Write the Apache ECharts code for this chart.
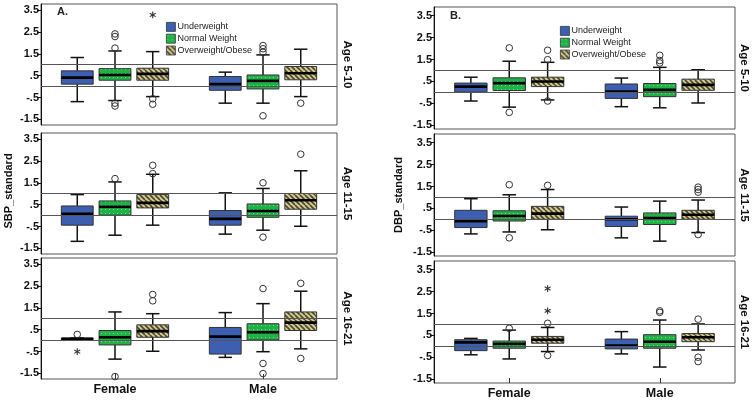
<!DOCTYPE html>
<html lang="en">
<head>
    <meta charset="UTF-8">
    <title>SBP / DBP standard by weight group</title>
    <script src="https://cdn.jsdelivr.net/npm/echarts@6/dist/echarts.min.js"></script>
    <style>
        html, body { margin: 0; padding: 0; background: #fff; }
        #chart { width: 754px; height: 400px; }
    </style>
</head>
<body>
<div id="chart"></div>
<script type="text/javascript">
    var categories = ['Female', 'Male'];
    var groups = ['Underweight', 'Normal Weight', 'Overweight/Obese'];
    var ageRows = ['Age 5-10', 'Age 11-15', 'Age 16-21'];
    var yTicks = [-1.5, -0.5, 0.5, 1.5, 2.5, 3.5];

    // box rows: Female UW, NW, OW, Male UW, NW, OW -> [low, q1, median, q3, high]
    var sbpAge5_10 = [
        [-0.69, 0.11, 0.41, 0.72, 1.33],
        [-0.64, 0.29, 0.53, 0.82, 1.63],
        [-0.46, 0.29, 0.58, 0.84, 1.60],
        [-0.76, -0.17, 0.11, 0.46, 0.66],
        [-0.76, -0.11, 0.26, 0.53, 1.45],
        [-0.46, 0.31, 0.61, 0.92, 1.71]
    ];
    var sbpAge11_15 = [
        [-1.18, -0.44, 0.08, 0.44, 0.96],
        [-0.90, 0.02, 0.40, 0.67, 1.54],
        [-0.44, 0.35, 0.58, 0.96, 1.89],
        [-0.85, -0.44, -0.15, 0.23, 1.04],
        [-0.67, -0.08, 0.21, 0.53, 1.24],
        [-0.49, 0.29, 0.70, 1.01, 2.05]
    ];
    var sbpAge16_21 = [
        [0.03, 0.05, 0.08, 0.11, 0.12],
        [-0.85, -0.20, 0.15, 0.46, 1.31],
        [-0.49, 0.15, 0.43, 0.72, 1.23],
        [-0.77, -0.62, 0.18, 0.60, 1.28],
        [-0.51, 0.03, 0.38, 0.77, 1.69],
        [-0.38, 0.46, 0.82, 1.31, 2.26]
    ];
    var dbpAge5_10 = [
        [-0.40, 0.02, 0.26, 0.42, 0.69],
        [-0.68, 0.08, 0.42, 0.66, 1.42],
        [-0.35, 0.26, 0.49, 0.69, 1.37],
        [-0.66, -0.28, 0.03, 0.38, 0.65],
        [-0.71, -0.20, 0.11, 0.40, 1.14],
        [-0.49, 0.09, 0.34, 0.60, 1.03]
    ];
    var dbpAge11_15 = [
        [-0.67, -0.38, -0.09, 0.41, 0.94],
        [-0.58, -0.08, 0.15, 0.39, 1.12],
        [-0.48, 0.00, 0.26, 0.59, 1.36],
        [-0.85, -0.33, 0.00, 0.14, 0.56],
        [-1.00, -0.24, 0.06, 0.29, 0.83],
        [-0.61, 0.00, 0.21, 0.41, 0.88]
    ];
    var dbpAge16_21 = [
        [-0.39, -0.20, 0.18, 0.30, 0.36],
        [-0.58, -0.09, 0.11, 0.24, 0.74],
        [-0.24, 0.14, 0.30, 0.45, 0.86],
        [-0.35, -0.12, 0.03, 0.33, 0.67],
        [-0.95, -0.09, 0.21, 0.53, 1.20],
        [-0.17, 0.21, 0.41, 0.58, 1.02]
    ];

    // outliers: [category, group, value, kind] kind 0 = circle, 1 = star
    var sbpOut5_10 = [
        [0, 1, 2.41, 0], [0, 1, 2.29, 0], [0, 1, 1.76, 0], [0, 1, -0.76, 0], [0, 1, -0.89, 0],
        [0, 2, 3.28, 1], [0, 2, -0.56, 0], [0, 2, -0.81, 0],
        [1, 1, 1.88, 0], [1, 1, 1.73, 0], [1, 1, 1.57, 0], [1, 1, -1.34, 0],
        [1, 2, -0.76, 0]
    ];
    var sbpOut11_15 = [
        [0, 1, 1.69, 0], [0, 2, 2.30, 0], [0, 2, 1.92, 0],
        [1, 1, 1.50, 0], [1, 1, -0.99, 0], [1, 2, 2.81, 0]
    ];
    var sbpOut16_21 = [
        [0, 0, 0.28, 0], [0, 0, -0.51, 1], [0, 1, -1.65, 0], [0, 2, 2.11, 0], [0, 2, 1.82, 0],
        [1, 1, 2.38, 0], [1, 1, -1.05, 0], [1, 1, -1.51, 0], [1, 2, 2.62, 0], [1, 2, -0.82, 0]
    ];
    var dbpOut5_10 = [
        [0, 1, 2.03, 0], [0, 1, -0.92, 0], [0, 2, 1.92, 0], [0, 2, 1.49, 0], [0, 2, -0.40, 0],
        [1, 1, 1.69, 0], [1, 1, 1.45, 0], [1, 1, 1.34, 0]
    ];
    var dbpOut11_15 = [
        [0, 1, 1.58, 0], [0, 1, -0.85, 0], [0, 2, 1.55, 0],
        [1, 2, 1.47, 0], [1, 2, 1.36, 0], [1, 2, 1.24, 0], [1, 2, -0.70, 0]
    ];
    var dbpOut16_21 = [
        [0, 1, 0.82, 0], [0, 2, 2.64, 1], [0, 2, 1.62, 1], [0, 2, 1.05, 0], [0, 2, -0.42, 0],
        [1, 1, 1.62, 0], [1, 1, 1.55, 0], [1, 2, 1.24, 0], [1, 2, -0.50, 0], [1, 2, -0.70, 0]
    ];

    var FONT = "'Liberation Sans', Arial, sans-serif";

    // fill patterns like the SPSS ones
    function dotPattern() {
        var c = document.createElement('canvas');
        c.width = 4; c.height = 4;
        var ctx = c.getContext('2d');
        ctx.fillStyle = '#1fb247';
        ctx.fillRect(0, 0, 4, 4);
        ctx.fillStyle = '#7ddc8e';
        ctx.fillRect(1, 1, 1, 1);
        return { image: c, repeat: 'repeat' };
    }
    function stripePattern() {
        var c = document.createElement('canvas');
        c.width = 5; c.height = 5;
        var ctx = c.getContext('2d');
        ctx.fillStyle = '#d4cb90';
        ctx.fillRect(0, 0, 5, 5);
        ctx.strokeStyle = '#4a4530';
        ctx.lineWidth = 1.6;
        ctx.beginPath();
        for (var k = -5; k <= 5; k += 5) {
            ctx.moveTo(k, 0);
            ctx.lineTo(k + 5, 5);
        }
        ctx.stroke();
        return { image: c, repeat: 'repeat' };
    }
    var fills = ['#3d5fb1', dotPattern(), stripePattern()];

    var panels = [
        { label: 'A.', yName: 'SBP_standard', left: 41, width: 296, tops: [4, 133, 258], height: 121,
          min: -1.76, max: 3.78, boxes: [sbpAge5_10, sbpAge11_15, sbpAge16_21],
          outs: [sbpOut5_10, sbpOut11_15, sbpOut16_21] },
        { label: 'B.', yName: 'DBP_standard', left: 434, width: 301, tops: [7, 134, 261], height: 122,
          min: -1.68, max: 3.9, boxes: [dbpAge5_10, dbpAge11_15, dbpAge16_21],
          outs: [dbpOut5_10, dbpOut11_15, dbpOut16_21] }
    ];

    function boxRenderer(g) {
        return function (params, api) {
            var cat = api.value(0);
            var band = api.size([1, 0])[0];
            var cx = api.coord([cat, 0])[0] + (g - 1) * band * 0.255;
            var w = band * 0.215;
            var cap = w * 0.42;
            var y = [1, 2, 3, 4, 5].map(function (i) { return api.coord([cat, api.value(i)])[1]; });
            var wl = { stroke: '#111', lineWidth: 1.5 };
            return {
                type: 'group',
                children: [
                    { type: 'line', shape: { x1: cx, y1: y[4], x2: cx, y2: y[3] }, style: wl },
                    { type: 'line', shape: { x1: cx, y1: y[1], x2: cx, y2: y[0] }, style: wl },
                    { type: 'line', shape: { x1: cx - cap / 2, y1: y[4], x2: cx + cap / 2, y2: y[4] }, style: wl },
                    { type: 'line', shape: { x1: cx - cap / 2, y1: y[0], x2: cx + cap / 2, y2: y[0] }, style: wl },
                    { type: 'rect', shape: { x: cx - w / 2, y: y[3], width: w, height: Math.max(y[1] - y[3], 1) },
                      style: { fill: fills[g], stroke: '#333', lineWidth: 1 } },
                    { type: 'line', shape: { x1: cx - w / 2, y1: y[2], x2: cx + w / 2, y2: y[2] },
                      style: { stroke: '#000', lineWidth: 2.6 } }
                ]
            };
        };
    }

    function outlierRenderer(params, api) {
        var cat = api.value(0), g = api.value(1), kind = api.value(3);
        var band = api.size([1, 0])[0];
        var p = api.coord([cat, api.value(2)]);
        var x = p[0] + (g - 1) * band * 0.255;
        if (kind === 0) {
            return { type: 'circle', shape: { cx: x, cy: p[1], r: 3.3 },
                     style: { fill: 'none', stroke: '#333', lineWidth: 1 } };
        }
        // asterisk
        var r = 3.4, arms = [];
        [90, 30, -30].forEach(function (deg) {
            var a = deg * Math.PI / 180;
            arms.push({ type: 'line',
                shape: { x1: x - r * Math.cos(a), y1: p[1] - r * Math.sin(a), x2: x + r * Math.cos(a), y2: p[1] + r * Math.sin(a) },
                style: { stroke: '#333', lineWidth: 1.1 } });
        });
        return { type: 'group', children: arms };
    }

    function tickLabel(v) {
        if (v === 0.5) return '.5';
        if (v === -0.5) return '-.5';
        return String(v);
    }

    var grids = [], xAxes = [], yAxes = [], series = [], graphics = [];

    panels.forEach(function (pn, pi) {
        pn.tops.forEach(function (top, ri) {
            var k = grids.length;
            var bottomRow = ri === 2;
            grids.push({ left: pn.left, top: top, width: pn.width, height: pn.height,
                         show: true, borderColor: '#555', borderWidth: 1 });
            xAxes.push({
                type: 'category', gridIndex: k, data: categories,
                axisLine: { show: false, onZero: false },
                axisTick: { show: bottomRow, inside: true, alignWithLabel: true, length: 5, lineStyle: { color: '#333' } },
                axisLabel: { show: bottomRow, margin: 4, fontSize: 12.5, fontWeight: 'bold', color: '#111', fontFamily: FONT }
            });
            yAxes.push({
                type: 'value', gridIndex: k, min: pn.min, max: pn.max,
                axisLine: { show: true, lineStyle: { color: '#111' } },
                axisTick: { show: true, customValues: yTicks, length: 4, lineStyle: { color: '#111' } },
                axisLabel: { customValues: yTicks, formatter: tickLabel, margin: 2, fontSize: 11,
                             fontWeight: 'bold', color: '#111', fontFamily: FONT },
                splitLine: { show: false }
            });

            // reference lines at 0 and 1
            series.push({
                type: 'line', xAxisIndex: k, yAxisIndex: k, data: [], z: 1, silent: true,
                markLine: { symbol: 'none', silent: true, animation: false, label: { show: false },
                            lineStyle: { color: '#555', width: 1, type: 'solid' },
                            data: [{ yAxis: 0 }, { yAxis: 1 }] }
            });

            var rows = pn.boxes[ri];
            groups.forEach(function (gName, g) {
                var data = [];
                rows.forEach(function (b, i) {
                    if (i % 3 === g) data.push([Math.floor(i / 3)].concat(b));
                });
                series.push({
                    type: 'custom', name: gName, xAxisIndex: k, yAxisIndex: k, z: 3,
                    data: data, encode: { x: 0, y: [1, 2, 3, 4, 5] },
                    itemStyle: { color: fills[g] },
                    renderItem: boxRenderer(g)
                });
            });

            series.push({
                type: 'custom', name: 'outliers', xAxisIndex: k, yAxisIndex: k, z: 4,
                data: pn.outs[ri], encode: { x: 0, y: 2 },
                renderItem: outlierRenderer
            });

            graphics.push({
                type: 'text', x: pn.left + pn.width + (pi === 0 ? 10 : 9), y: top + pn.height / 2,
                rotation: -Math.PI / 2,
                style: { text: ageRows[ri], align: 'center', verticalAlign: 'middle',
                         font: 'bold 11.5px ' + FONT, fill: '#111' }
            });
        });

        graphics.push({
            type: 'text', x: pn.left + 16, y: pn.tops[0] + (pi === 0 ? 8 : 9),
            style: { text: pn.label, align: 'left', verticalAlign: 'middle', font: 'bold 11px ' + FONT, fill: '#222' }
        });
        graphics.push({
            type: 'text', x: pi === 0 ? 9 : 399, y: pi === 0 ? 191 : 195,
            rotation: Math.PI / 2,
            style: { text: pn.yName, align: 'center', verticalAlign: 'middle', font: 'bold 11px ' + FONT, fill: '#111' }
        });
    });

    function legendAt(left, top) {
        return {
            left: left, top: top, orient: 'vertical', icon: 'rect',
            itemWidth: 9, itemHeight: 9, itemGap: 2, padding: 0, selectedMode: false,
            textStyle: { fontSize: 9, color: '#222', fontFamily: FONT, padding: [0, 0, 0, -3] },
            data: groups.map(function (n, i) {
                return { name: n, itemStyle: { color: fills[i], borderColor: '#333', borderWidth: 0.8 } };
            })
        };
    }

    var myChart = echarts.init(document.getElementById('chart'));
    myChart.setOption({
        animation: false,
        backgroundColor: '#fff',
        grid: grids,
        xAxis: xAxes,
        yAxis: yAxes,
        legend: [legendAt(166, 22), legendAt(560, 26)],
        series: series,
        graphic: graphics
    });
</script>
</body>
</html>
